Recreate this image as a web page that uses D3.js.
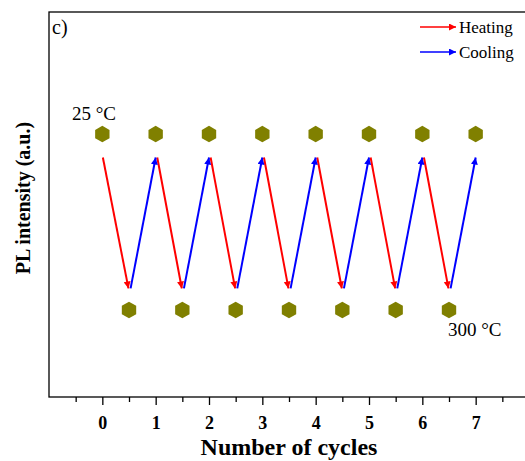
<!DOCTYPE html>
<html><head><meta charset="utf-8">
<script src="https://cdn.jsdelivr.net/npm/d3@7"></script>
<style>body{margin:0;background:#fff}svg{display:block}text{font-family:"Liberation Serif","Times New Roman",serif}</style>
</head><body>
<script>
// Data
const highCycles = [0,1,2,3,4,5,6,7];          // 25 °C points
const highValues = [0.683,0.683,0.683,0.683,0.683,0.683,0.683,0.683];
const lowCycles = [0.5,1.5,2.5,3.5,4.5,5.5,6.5]; // 300 °C points
const lowValues = [0.226,0.226,0.226,0.226,0.226,0.226,0.226];
// Arrows: heating (red) from high to low, cooling (blue) from low to high
const heatStart = [0.01,1.03,2.03,3.03,4.03,5.03,6.03];
const heatEnd   = [0.49,1.49,2.49,3.49,4.49,5.49,6.49];
const coolStart = [0.53,1.53,2.53,3.53,4.53,5.53,6.53];
const coolEnd   = [1.0,2.0,3.0,4.0,5.0,6.0,7.0];
const arrowHigh = 0.622;
const arrowLow = 0.282;
const xTicks = [0,1,2,3,4,5,6,7];
const xMinor = [-0.5,0.5,1.5,2.5,3.5,4.5,5.5,6.5,7.5];

const W=525,H=461;
const svg=d3.select("body").append("svg").attr("width",W).attr("height",H);
const x=d3.scaleLinear().domain([-1,8]).range([49,529]);
const y=d3.scaleLinear().domain([0,1]).range([397,12]);

const defs=svg.append("defs");
function marker(id,color){
  defs.append("marker").attr("id",id).attr("viewBox","0 0 10 10").attr("refX",10).attr("refY",5)
   .attr("markerWidth",11).attr("markerHeight",7).attr("markerUnits","userSpaceOnUse").attr("orient","auto")
   .append("path").attr("d","M0,0L10,5L0,10Z").attr("fill",color);
}
marker("mr","#ff0000");marker("mb","#0000ff");

// frame
svg.append("rect").attr("x",49).attr("y",12).attr("width",490).attr("height",385)
  .attr("fill","none").attr("stroke","#000").attr("stroke-width",1.3);

// x axis
const ax=svg.append("g").attr("transform","translate(0,397)")
  .call(d3.axisBottom(x).tickValues(xTicks).tickSize(8).tickFormat(d3.format("d")));
ax.select(".domain").remove();
ax.selectAll(".tick line").attr("stroke-width",1.3);
ax.selectAll("text").attr("font-size",18).attr("font-weight","bold").attr("dy","1.17em")
  .attr("font-family","Liberation Serif");
svg.append("g").attr("transform","translate(0,397)")
  .call(d3.axisBottom(x).tickValues(xMinor).tickSize(5).tickFormat(""))
  .call(g=>{g.select(".domain").remove();g.selectAll(".tick line").attr("stroke-width",1.3);});

svg.append("text").attr("x",289).attr("y",455).attr("text-anchor","middle")
  .attr("font-size",24).attr("font-weight","bold").text("Number of cycles");
svg.append("text").attr("transform","translate(30,198) rotate(-90)").attr("text-anchor","middle")
  .attr("font-size",20).attr("font-weight","bold").text("PL intensity (a.u.)");

// arrows
const lines=svg.append("g");
heatStart.forEach((s,i)=>{
  lines.append("line").attr("x1",x(s)).attr("y1",y(arrowHigh)).attr("x2",x(heatEnd[i])).attr("y2",y(arrowLow))
   .attr("stroke","#ff0000").attr("stroke-width",2).attr("marker-end","url(#mr)");
});
coolStart.forEach((s,i)=>{
  lines.append("line").attr("x1",x(s)).attr("y1",y(arrowLow)).attr("x2",x(coolEnd[i])).attr("y2",y(arrowHigh))
   .attr("stroke","#0000ff").attr("stroke-width",2).attr("marker-end","url(#mb)");
});

// hexagons
const hex=d3.range(6).map(k=>{const a=Math.PI/3*k-Math.PI/2;return [8.3*Math.cos(a),8.3*Math.sin(a)];});
const hexPath="M"+hex.map(p=>p.join(",")).join("L")+"Z";
svg.append("g").selectAll("path.h").data(highCycles).join("path")
  .attr("d",hexPath).attr("transform",(d,i)=>`translate(${x(d)},${y(highValues[i])})`).attr("fill","#808000");
svg.append("g").selectAll("path.l").data(lowCycles).join("path")
  .attr("d",hexPath).attr("transform",(d,i)=>`translate(${x(d)},${y(lowValues[i])})`).attr("fill","#808000");

svg.append("text").attr("x",72).attr("y",120).attr("font-size",19).text("25 °C");
svg.append("text").attr("x",448).attr("y",336).attr("font-size",19).text("300 °C");
svg.append("text").attr("x",52).attr("y",34).attr("font-size",20).text("c)");

// legend
const leg=[["Heating","#ff0000","mr",27],["Cooling","#0000ff","mb",52]];
leg.forEach(l=>{
  svg.append("line").attr("x1",420).attr("x2",456).attr("y1",l[3]).attr("y2",l[3])
   .attr("stroke",l[1]).attr("stroke-width",1.6).attr("marker-end",`url(#${l[2]})`);
  svg.append("text").attr("x",459).attr("y",l[3]+6).attr("font-size",17).text(l[0]);
});
</script>
</body></html>
